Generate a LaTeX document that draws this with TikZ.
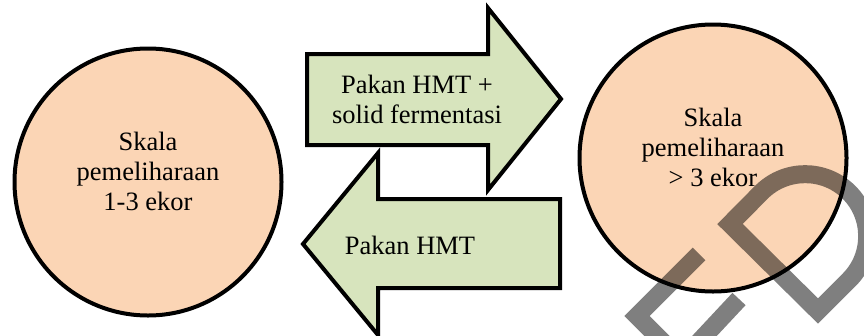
\documentclass[tikz,border=0pt]{standalone}
\usepackage{fontspec}
\setmainfont{Liberation Serif}
\usetikzlibrary{positioning,calc}
\definecolor{peach}{HTML}{FBD5B5}
\definecolor{lightolive}{HTML}{D7E4BD}

\begin{document}
\begin{tikzpicture}[x=1pt,y=-1pt,
  skala/.style={circle,draw,line width=4pt,fill=peach,minimum size=267pt,inner sep=0pt},
  panah/.style={draw,line width=4pt,fill=lightolive,line join=miter},
  teks/.style={align=center,inner sep=0pt,font=\fontsize{26.5}{30}\selectfont},
  wmark/.style={line width=18pt,black,opacity=0.5,line join=miter,line cap=butt}]
\clip (0,0) rectangle (864,335);
% Skala pemeliharaan
\node[skala](sk_kecil) at (148,182) {};
\node[teks](sk_kecil_t) at ($(sk_kecil)+(0,-11)$) {Skala\\pemeliharaan\\1-3 ekor};
\node[skala](sk_besar) at (713,158) {};
\node[teks](sk_besar_t) at ($(sk_besar)+(0,-11)$) {Skala\\pemeliharaan\\> 3 ekor};
% Panah pakan
\draw[panah] (307,54) -- (488,54) -- (488,8) -- (561,99) -- (488,190) -- (488,145) -- (307,145) -- cycle;
\node[teks](pk_atas) at (417,99) {Pakan HMT +\\solid fermentasi};
\draw[panah] (560,199) -- (378,199) -- (378,153) -- (303,244) -- (378,335) -- (378,288) -- (560,288) -- cycle;
\node[teks](pk_bawah) at (410,245) {Pakan HMT};
% watermark
\draw[wmark] (699,254) -- (637,316) -- (681.5,360.5) -- (739,299);
\draw[wmark] (849,280) arc[start angle=-45,end angle=135,radius=62pt] -- (730,224) -- (818,311) -- cycle;
\end{tikzpicture}
\end{document}
